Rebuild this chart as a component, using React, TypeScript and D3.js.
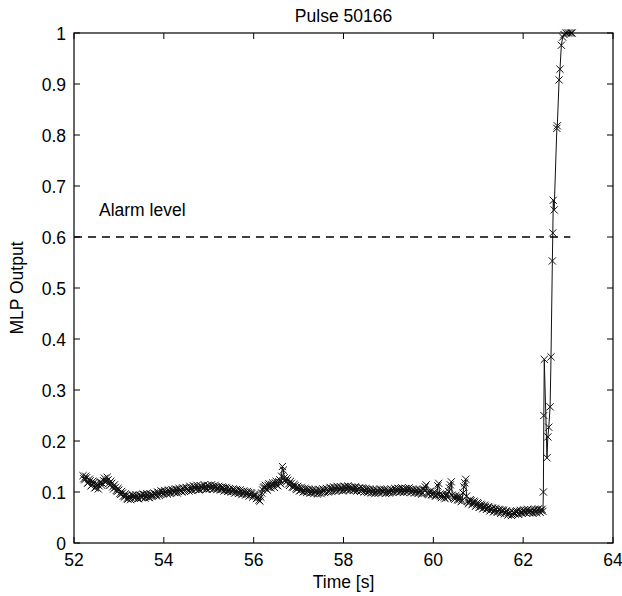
import React from 'react';
import * as d3 from 'd3';

// baseline samples, one every 40 ms starting at 52.20 s
const baseStart = 52.2;
const baseStep = 0.04;
const baseValues = [
  // 52.20 - 53.16
  0.132, 0.124, 0.128, 0.119, 0.122, 0.114, 0.118, 0.109, 0.115, 0.112, 0.119, 0.116, 0.127, 0.121, 0.124, 0.113, 0.117, 0.106, 0.109, 0.101, 0.104, 0.095, 0.098, 0.090, 0.093,
  // 53.20 - 54.16
  0.086, 0.091, 0.088, 0.094, 0.089, 0.092, 0.087, 0.093, 0.090, 0.095, 0.091, 0.094, 0.089, 0.096, 0.093, 0.097, 0.092, 0.099, 0.095, 0.101, 0.097, 0.100, 0.096, 0.102, 0.099,
  // 54.20 - 55.16
  0.103, 0.099, 0.105, 0.101, 0.104, 0.100, 0.107, 0.103, 0.106, 0.102, 0.108, 0.104, 0.110, 0.106, 0.109, 0.105, 0.111, 0.107, 0.110, 0.106, 0.112, 0.108, 0.111, 0.107, 0.110,
  // 55.20 - 56.16
  0.106, 0.109, 0.105, 0.108, 0.103, 0.107, 0.102, 0.105, 0.101, 0.104, 0.099, 0.103, 0.098, 0.101, 0.097, 0.100, 0.096, 0.099, 0.094, 0.097, 0.092, 0.094, 0.088, 0.084, 0.090,
  // 56.20 - 57.16
  0.104, 0.110, 0.106, 0.113, 0.109, 0.115, 0.111, 0.118, 0.113, 0.120, 0.116, 0.150, 0.128, 0.119, 0.123, 0.113, 0.117, 0.109, 0.112, 0.105, 0.108, 0.103, 0.106, 0.101, 0.105,
  // 57.20 - 58.16
  0.101, 0.104, 0.099, 0.103, 0.100, 0.102, 0.098, 0.103, 0.100, 0.104, 0.101, 0.105, 0.102, 0.107, 0.103, 0.108, 0.104, 0.109, 0.105, 0.108, 0.104, 0.110, 0.105, 0.109, 0.106,
  // 58.20 - 59.16
  0.108, 0.104, 0.109, 0.105, 0.107, 0.103, 0.106, 0.102, 0.105, 0.101, 0.104, 0.100, 0.103, 0.099, 0.102, 0.100, 0.104, 0.101, 0.103, 0.099, 0.102, 0.100, 0.104, 0.101, 0.105,
  // 59.20 - 60.16
  0.102, 0.106, 0.101, 0.105, 0.102, 0.106, 0.103, 0.105, 0.101, 0.104, 0.100, 0.103, 0.099, 0.102, 0.098, 0.103, 0.114, 0.097, 0.100, 0.095, 0.098, 0.093, 0.096, 0.117, 0.092,
  // 60.20 - 61.16
  0.095, 0.090, 0.094, 0.089, 0.108, 0.120, 0.091, 0.086, 0.090, 0.084, 0.088, 0.083, 0.110, 0.125, 0.082, 0.080, 0.083, 0.077, 0.080, 0.074, 0.077, 0.071, 0.074, 0.069, 0.072,
  // 61.20 - 62.16
  0.067, 0.070, 0.065, 0.068, 0.063, 0.066, 0.062, 0.065, 0.061, 0.064, 0.059, 0.062, 0.057, 0.060, 0.056, 0.059, 0.061, 0.058, 0.062, 0.059, 0.063, 0.060, 0.064, 0.061, 0.063,
  // 62.20 - 62.44
  0.060, 0.064, 0.061, 0.065, 0.062, 0.064, 0.062,
];

// the samples in between, starting at 52.22 s
const midStart = 52.22;
const midValues = [
  // 52.22 - 53.18
  0.126, 0.131, 0.117, 0.125, 0.112, 0.121, 0.108, 0.117, 0.106, 0.119, 0.113, 0.122, 0.120, 0.129, 0.117, 0.121, 0.110, 0.114, 0.103, 0.107, 0.097, 0.101, 0.092, 0.096, 0.087,
  // 53.22 - 54.18
  0.092, 0.085, 0.093, 0.088, 0.095, 0.087, 0.094, 0.089, 0.096, 0.088, 0.097, 0.090, 0.095, 0.091, 0.098, 0.094, 0.100, 0.093, 0.102, 0.096, 0.103, 0.098, 0.104, 0.097, 0.105,
  // 54.22 - 55.18
  0.100, 0.106, 0.098, 0.107, 0.102, 0.108, 0.101, 0.109, 0.104, 0.111, 0.103, 0.112, 0.105, 0.113, 0.104, 0.112, 0.106, 0.114, 0.105, 0.113, 0.107, 0.114, 0.106, 0.113, 0.105,
  // 55.22 - 56.18
  0.111, 0.104, 0.110, 0.102, 0.109, 0.101, 0.107, 0.100, 0.106, 0.098, 0.105, 0.097, 0.104, 0.095, 0.102, 0.094, 0.101, 0.092, 0.099, 0.090, 0.096, 0.087, 0.091, 0.082, 0.098,
  // 56.22 - 57.18
  0.108, 0.113, 0.104, 0.116, 0.108, 0.118, 0.109, 0.121, 0.112, 0.124, 0.131, 0.143, 0.122, 0.127, 0.116, 0.121, 0.110, 0.115, 0.107, 0.111, 0.102, 0.109, 0.100, 0.107, 0.099,
  // 57.22 - 58.18
  0.106, 0.098, 0.105, 0.097, 0.104, 0.096, 0.105, 0.097, 0.106, 0.099, 0.107, 0.100, 0.109, 0.101, 0.110, 0.102, 0.111, 0.103, 0.110, 0.102, 0.111, 0.104, 0.112, 0.103, 0.110,
  // 58.22 - 59.18
  0.103, 0.110, 0.102, 0.108, 0.101, 0.108, 0.100, 0.107, 0.099, 0.106, 0.098, 0.105, 0.097, 0.104, 0.098, 0.106, 0.099, 0.105, 0.097, 0.104, 0.098, 0.106, 0.099, 0.107, 0.100,
  // 59.22 - 60.18
  0.107, 0.100, 0.108, 0.099, 0.107, 0.100, 0.108, 0.099, 0.106, 0.098, 0.105, 0.097, 0.104, 0.096, 0.106, 0.110, 0.099, 0.095, 0.102, 0.094, 0.100, 0.092, 0.112, 0.095, 0.089,
  // 60.22 - 61.18
  0.093, 0.087, 0.096, 0.101, 0.114, 0.094, 0.088, 0.093, 0.085, 0.092, 0.081, 0.098, 0.118, 0.092, 0.077, 0.085, 0.075, 0.082, 0.072, 0.079, 0.070, 0.076, 0.067, 0.074, 0.066,
  // 61.22 - 62.18
  0.071, 0.063, 0.069, 0.061, 0.068, 0.060, 0.066, 0.058, 0.065, 0.057, 0.063, 0.055, 0.061, 0.054, 0.060, 0.057, 0.063, 0.056, 0.064, 0.058, 0.065, 0.059, 0.066, 0.060, 0.065,
  // 62.22 - 62.42
  0.058, 0.066, 0.059, 0.067, 0.060, 0.066,
];

// the disruption ramp, read point by point
const riseTimes = [62.45, 62.46, 62.47, 62.53, 62.55, 62.57, 62.6, 62.62, 62.65, 62.66, 62.67, 62.69, 62.75, 62.76, 62.8, 62.82, 62.85, 62.88, 62.91, 62.95, 62.99, 63.03, 63.07, 63.09];
const riseValues = [0.1, 0.25, 0.36, 0.167, 0.208, 0.227, 0.267, 0.365, 0.553, 0.608, 0.672, 0.653, 0.813, 0.818, 0.908, 0.929, 0.976, 0.992, 0.997, 1.0, 1.0, 1.0, 1.0, 1.0];

const alarmLevel = 0.6;
const alarmEnd = 63.05;
const xTicks = [52, 54, 56, 58, 60, 62, 64];
const yTicks = [0, 0.1, 0.2, 0.3, 0.4, 0.5, 0.6, 0.7, 0.8, 0.9, 1];

const width = 622;
const height = 596;
const margin = { top: 33, right: 9, bottom: 53, left: 74 };
const font = '"Liberation Sans", Arial, Helvetica, sans-serif';
const fs = 17.5;

const App = () => {
  const x = d3.scaleLinear().domain([52, 64]).range([margin.left, width - margin.right]);
  const y = d3.scaleLinear().domain([0, 1]).range([height - margin.bottom, margin.top]);

  const points: [number, number][] = [
    ...baseValues.map((v, i) => [baseStart + i * baseStep, v] as [number, number]),
    ...midValues.map((v, i) => [midStart + i * baseStep, v] as [number, number]),
    ...riseTimes.map((t, i) => [t, riseValues[i]] as [number, number]),
  ].sort((a, b) => a[0] - b[0]);

  const line = d3.line<[number, number]>()
    .x((d) => x(d[0]))
    .y((d) => y(d[1]));

  const x0 = x(52), x1 = x(64), y0 = y(0), y1 = y(1);
  const tick = 6;

  return (
    <svg width={width} height={height} style={{ position: 'absolute', left: 0, top: 0, background: '#fff' }} fontFamily={font}>
      <text x={(x0 + x1) / 2} y={22} textAnchor="middle" fontSize={fs}>Pulse 50166</text>

      {/* data */}
      <path d={line(points) ?? ''} fill="none" stroke="#111" strokeWidth={1} />
      <g stroke="#111" strokeWidth={1}>
        {points.map((d, i) => (
          <path key={i} transform={`translate(${x(d[0])},${y(d[1])})`} d="M-3.6,-3.6L3.6,3.6M-3.6,3.6L3.6,-3.6" />
        ))}
      </g>

      {/* alarm line */}
      <line x1={x(52)} x2={x(alarmEnd)} y1={y(alarmLevel)} y2={y(alarmLevel)} stroke="#000" strokeWidth={1.6} strokeDasharray="8,6" />
      <text x={99} y={y(alarmLevel) - 21} fontSize={fs}>Alarm level</text>

      {/* axes box */}
      <rect x={x0} y={y1} width={x1 - x0} height={y0 - y1} fill="none" stroke="#000" strokeWidth={1.2} />
      {xTicks.map((t) => (
        <g key={t}>
          <line x1={x(t)} x2={x(t)} y1={y0} y2={y0 - tick} stroke="#000" />
          <line x1={x(t)} x2={x(t)} y1={y1} y2={y1 + tick} stroke="#000" />
          <text x={x(t)} y={y0 + 23} textAnchor="middle" fontSize={fs}>{t}</text>
        </g>
      ))}
      {yTicks.map((t) => (
        <g key={t}>
          <line x1={x0} x2={x0 + tick} y1={y(t)} y2={y(t)} stroke="#000" />
          <line x1={x1} x2={x1 - tick} y1={y(t)} y2={y(t)} stroke="#000" />
          <text x={x0 - 8} y={y(t) + 6.5} textAnchor="end" fontSize={fs}>{t}</text>
        </g>
      ))}

      <text x={(x0 + x1) / 2} y={588} textAnchor="middle" fontSize={fs}>Time [s]</text>
      <text transform={`translate(23,${(y0 + y1) / 2}) rotate(-90)`} textAnchor="middle" fontSize={fs}>MLP Output</text>
    </svg>
  );
};

export default App;
